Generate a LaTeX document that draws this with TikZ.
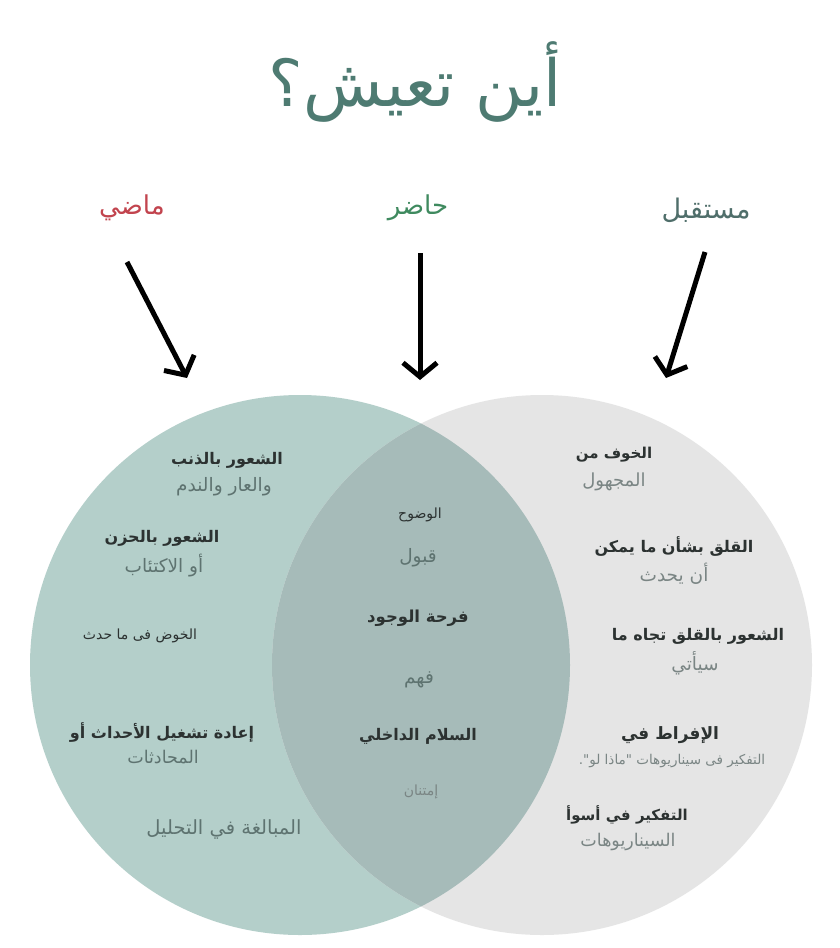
\documentclass[tikz,border=0pt]{standalone}
\usepackage{fontspec}
\usetikzlibrary{arrows.meta}
\TeXXeTstate=1
\newfontfamily\arabicfont[Script=Arabic]{DejaVu Sans}
\definecolor{leftfill}{HTML}{B4CFCA}
\definecolor{rightfill}{HTML}{E5E5E5}
\definecolor{midfill}{HTML}{A6BBB9}
\definecolor{titlecol}{HTML}{4E7B72}
\definecolor{pastcol}{HTML}{C2444E}
\definecolor{presentcol}{HTML}{3F8A5F}
\definecolor{futurecol}{HTML}{4F6E6A}
\definecolor{darktxt}{HTML}{2C3231}
\definecolor{softtxt}{HTML}{5E7370}
\definecolor{greytxt}{HTML}{7A8584}
\tikzset{
  lbl/.style={font=\arabicfont\fontsize{26}{30}\selectfont, inner sep=0pt},
  pointer/.style={line width=5pt, -{Straight Barb[length=14pt,width=34pt]}},
  mainline/.style={font=\arabicfont\bfseries\fontsize{16}{19}\selectfont, text=darktxt, inner sep=0pt},
  subline/.style={font=\arabicfont\fontsize{18.5}{22}\selectfont, text=softtxt, inner sep=0pt},
  tinyline/.style={font=\arabicfont\fontsize{14}{16}\selectfont, text=darktxt, inner sep=0pt},
  tinysoft/.style={font=\arabicfont\fontsize{14}{16}\selectfont, text=greytxt, inner sep=0pt},
}
\newcommand{\ar}[1]{\beginR #1\endR}
\begin{document}
\begin{tikzpicture}[x=1pt,y=-1pt]
\useasboundingbox (0,0) rectangle (839,948);
\fill[white] (0,0) rectangle (839,948);
% circles
\fill[leftfill] (300,665) circle (270);
\fill[rightfill] (542,665) circle (270);
\begin{scope}
  \clip (300,665) circle (270);
  \fill[midfill] (542,665) circle (270);
\end{scope}
% title
\node[font=\arabicfont\fontsize{65}{76}\selectfont, text=titlecol, inner sep=0pt] (title) at (415,82) {\ar{أين تعيش؟}};
% column labels
\node[lbl, text=pastcol] (past) at (132,208) {\ar{ماضي}};
\node[lbl, text=presentcol] (present) at (418,208) {\ar{حاضر}};
\node[lbl, font=\arabicfont\fontsize{27}{30}\selectfont, text=futurecol] (future) at (706,210) {\ar{مستقبل}};
% arrows
\coordinate (pt) at (127,262);
\coordinate (ph) at (187,378);
\coordinate (nt) at (420,253);
\coordinate (nh) at (420,380);
\coordinate (ft) at (705,252);
\coordinate (fh) at (666,378);
\draw[pointer] (pt) -- (ph);
\draw[pointer] (nt) -- (nh);
\draw[pointer] (ft) -- (fh);
% left circle
\node[mainline] (l1a) at (227,460) {\ar{الشعور بالذنب}};
\node[subline] (l1b) at (224,487) {\ar{والعار والندم}};
\node[mainline] (l2a) at (162,538) {\ar{الشعور بالحزن}};
\node[subline] (l2b) at (164,566) {\ar{أو الاكتئاب}};
\node[tinyline] (l3) at (140,636) {\ar{الخوض فى ما حدث}};
\node[mainline] (l4a) at (162,732) {\ar{إعادة تشغيل الأحداث أو}};
\node[subline, font=\arabicfont\fontsize{17.5}{20}\selectfont] (l4b) at (163,757) {\ar{المحادثات}};
\node[subline, font=\arabicfont\fontsize{19.5}{22}\selectfont] (l5) at (224,829) {\ar{المبالغة في التحليل}};
% middle
\node[tinyline] (m1) at (420,515) {\ar{الوضوح}};
\node[subline] (m2) at (418,558) {\ar{قبول}};
\node[mainline, font=\arabicfont\bfseries\fontsize{16.5}{19}\selectfont] (m3) at (418,618) {\ar{فرحة الوجود}};
\node[subline] (m4) at (419,680) {\ar{فهم}};
\node[mainline] (m5) at (418,736) {\ar{السلام الداخلي}};
\node[tinysoft] (m6) at (421,792) {\ar{إمتنان}};
% right circle
\node[mainline, font=\arabicfont\bfseries\fontsize{15}{18}\selectfont] (r1a) at (614,455) {\ar{الخوف من}};
\node[subline, font=\arabicfont\fontsize{18}{21}\selectfont, text=greytxt] (r1b) at (614,482) {\ar{المجهول}};
\node[mainline] (r2a) at (674,547) {\ar{القلق بشأن ما يمكن}};
\node[subline, text=greytxt] (r2b) at (674,574) {\ar{أن يحدث}};
\node[mainline] (r3a) at (698,636) {\ar{الشعور بالقلق تجاه ما}};
\node[subline, text=greytxt] (r3b) at (695,663) {\ar{سيأتي}};
\node[mainline, font=\arabicfont\bfseries\fontsize{17}{20}\selectfont] (r4a) at (670,735) {\ar{الإفراط في}};
\node[tinysoft, font=\arabicfont\fontsize{13.5}{16}\selectfont] (r4b) at (672,761) {\ar{التفكير فى سيناريوهات "ماذا لو".}};
\node[mainline, font=\arabicfont\bfseries\fontsize{15}{18}\selectfont] (r5a) at (627,815) {\ar{التفكير في أسوأ}};
\node[subline, font=\arabicfont\fontsize{17.5}{20}\selectfont, text=greytxt] (r5b) at (628,842) {\ar{السيناريوهات}};
\end{tikzpicture}
\end{document}
